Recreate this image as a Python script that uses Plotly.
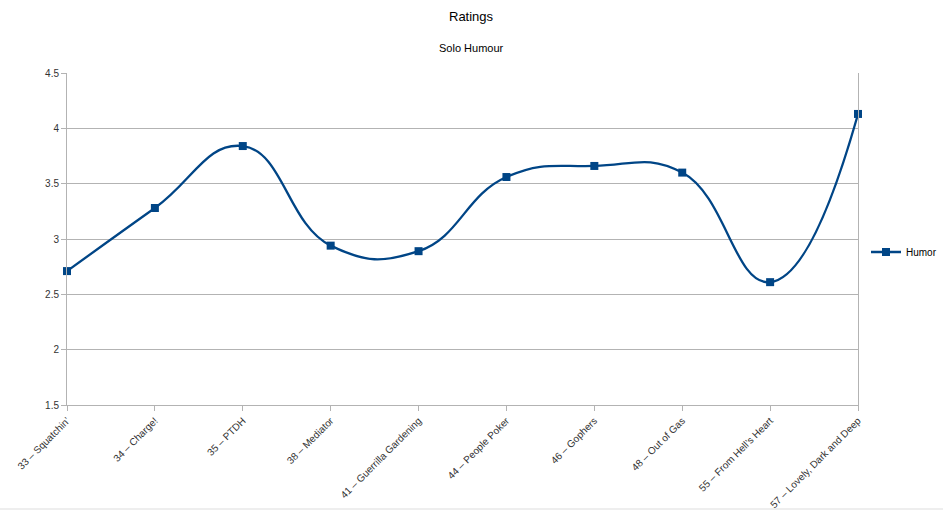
import plotly.graph_objects as go

categories = ["33 – Squatchin’", "34 – Charge!", "35 – PTDH", "38 – Mediator",
              "41 – Guerrilla Gardening", "44 – People Poker", "46 – Gophers",
              "48 – Out of Gas", "55 – From Hell’s Heart", "57 – Lovely, Dark and Deep"]
humor = [2.71, 3.28, 3.84, 2.94, 2.89, 3.56, 3.66, 3.60, 2.61, 4.13]
y_ticks = [1.5, 2, 2.5, 3, 3.5, 4, 4.5]
y_labels = ["1.5", "2", "2.5", "3", "3.5", "4", "4.5"]

FONT = "Liberation Sans, Arial, sans-serif"
COLOR = "#004586"

L, R, T, B = 67, 858, 73, 405
PW, PH = R - L, B - T

fig = go.Figure()
fig.add_trace(go.Scatter(
    x=categories, y=humor, name="Humor", mode="lines+markers",
    line=dict(color=COLOR, width=2.3, shape="spline", smoothing=1.3),
    marker=dict(symbol="square", size=8, color=COLOR),
    cliponaxis=False,
))

fig.update_layout(
    width=943, height=511,
    margin=dict(l=L, r=943 - R, t=T, b=511 - B, autoexpand=False),
    paper_bgcolor="white", plot_bgcolor="white",
    font=dict(family=FONT, size=10, color="#333333"),
    annotations=[
        dict(text="Ratings", xref="paper", yref="paper",
             x=(471 - L) / PW, y=(B - 17) / PH, xanchor="center", yanchor="middle",
             showarrow=False, font=dict(family=FONT, size=13, color="#000000")),
        dict(text="Solo Humour", xref="paper", yref="paper",
             x=(471 - L) / PW, y=(B - 48) / PH, xanchor="center", yanchor="middle",
             showarrow=False, font=dict(family=FONT, size=11, color="#000000")),
    ],
    showlegend=True,
    legend=dict(x=(866 - L) / PW, y=(B - 252) / PH, xanchor="left", yanchor="middle",
                font=dict(family=FONT, size=10, color="#000000"),
                bgcolor="rgba(0,0,0,0)", itemwidth=30),
    shapes=[dict(type="line", xref="paper", yref="paper",
                 x0=-L / PW, x1=(943 - L) / PW, y0=(B - 509) / PH, y1=(B - 509) / PH,
                 line=dict(color="#dddddd", width=1))],
)

fig.update_xaxes(
    type="category", range=[0, len(categories) - 1], automargin=False,
    showgrid=False, showline=True, linecolor="#b3b3b3", linewidth=1,
    ticks="outside", ticklen=5, tickcolor="#b3b3b3", tickangle=-45,
    tickfont=dict(family=FONT, size=10, color="#333333"),
)
fig.update_yaxes(
    range=[1.5, 4.5], tickvals=y_ticks, ticktext=y_labels, automargin=False,
    showgrid=True, gridcolor="#b3b3b3", gridwidth=1,
    showline=True, linecolor="#b3b3b3", linewidth=1, mirror=True,
    ticks="outside", ticklen=5, tickcolor="#b3b3b3",
    tickfont=dict(family=FONT, size=10, color="#333333"),
    zeroline=False,
)

fig.write_html("out.html", config={"displayModeBar": False},
               post_script="document.body.style.margin='0';document.body.style.overflow='hidden';")
